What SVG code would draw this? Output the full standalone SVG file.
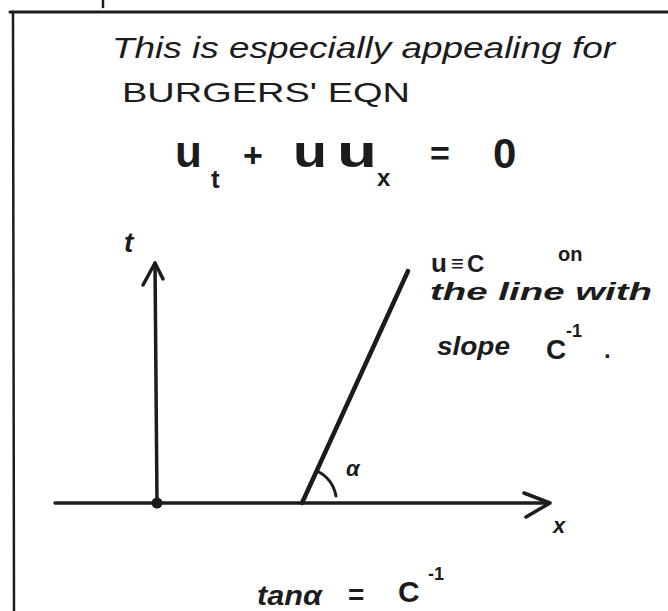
<svg xmlns="http://www.w3.org/2000/svg" width="668" height="611" viewBox="0 0 668 611">
<style>
.ink{fill:#1c1c1c;font-family:"Liberation Sans","DejaVu Sans",sans-serif}
.hand{font-style:italic}
.b{font-weight:bold}
.ln{stroke:#1c1c1c;fill:none;stroke-linecap:round;stroke-linejoin:round}
</style>
<rect width="668" height="611" fill="#ffffff"/>
<g id="frame">
<line class="ln" x1="10" y1="12" x2="668" y2="12" stroke-width="3"/>
<line class="ln" x1="13" y1="12" x2="14" y2="611" stroke-width="2.5"/>
<line class="ln" x1="103" y1="0" x2="103" y2="7" stroke-width="2.5"/>
</g>
<g id="heading">
<text class="ink hand" x="112" y="58" font-size="30" textLength="503" lengthAdjust="spacingAndGlyphs">This is especially appealing for</text>
<text class="ink" x="122" y="102" font-size="28" textLength="288" lengthAdjust="spacingAndGlyphs">BURGERS' EQN</text>
</g>
<g id="equation">
<text class="ink b" x="175" y="167" font-size="44">u</text>
<text class="ink b" x="211" y="188" font-size="26">t</text>
<text class="ink b" x="243" y="167" font-size="34">+</text>
<text class="ink b" x="293" y="167" font-size="44" textLength="34" lengthAdjust="spacingAndGlyphs">u</text>
<text class="ink b" x="337" y="167" font-size="44" textLength="40" lengthAdjust="spacingAndGlyphs">u</text>
<text class="ink b" x="377" y="186" font-size="24">x</text>
<text class="ink b" x="430" y="165" font-size="34">=</text>
<text class="ink b" x="493" y="168" font-size="42">0</text>
</g>
<g id="connectors">
<line class="ln" x1="157" y1="503" x2="155" y2="263" stroke-width="3.5"/>
<polyline class="ln" points="143,285 155,263 163,279" stroke-width="3.5"/>
<line class="ln" x1="55" y1="503" x2="549" y2="503" stroke-width="3.5"/>
<polyline class="ln" points="524,493 550,503 526,517" stroke-width="3.5"/>
<line class="ln" x1="302" y1="503" x2="408" y2="271" stroke-width="4.5"/>
<path class="ln" d="M 317 471 A 35 35 0 0 1 336 496" stroke-width="3"/>
<circle cx="157" cy="503" r="5.5" fill="#1c1c1c"/>
</g>
<g id="t-label">
<text class="ink hand b" x="124" y="252" font-size="28">t</text>
</g>
<g id="x-label">
<text class="ink hand b" x="553" y="533" font-size="22">x</text>
</g>
<g id="alpha-label">
<text class="ink hand b" x="346" y="476" font-size="22">α</text>
</g>
<g id="note">
<text class="ink b" x="431" y="272" font-size="26">u</text>
<text class="ink b" x="451" y="271" font-size="22">≡</text>
<text class="ink b" x="467" y="272" font-size="24">C</text>
<text class="ink b" x="558" y="261" font-size="20">on</text>
<text class="ink hand b" x="430" y="300" font-size="24" textLength="222" lengthAdjust="spacingAndGlyphs">the line with</text>
<text class="ink hand b" x="437" y="355" font-size="26" textLength="73" lengthAdjust="spacingAndGlyphs">slope</text>
<text class="ink b" x="546" y="359" font-size="28">C</text>
<text class="ink b" x="566" y="337" font-size="18">-1</text>
<text class="ink b" x="604" y="358" font-size="24">.</text>
</g>
<g id="formula">
<text class="ink hand b" x="257" y="605" font-size="28" textLength="65" lengthAdjust="spacingAndGlyphs">tanα</text>
<text class="ink b" x="348" y="604" font-size="28">=</text>
<text class="ink b" x="398" y="602" font-size="30">C</text>
<text class="ink b" x="428" y="580" font-size="18">-1</text>
</g>
</svg>
